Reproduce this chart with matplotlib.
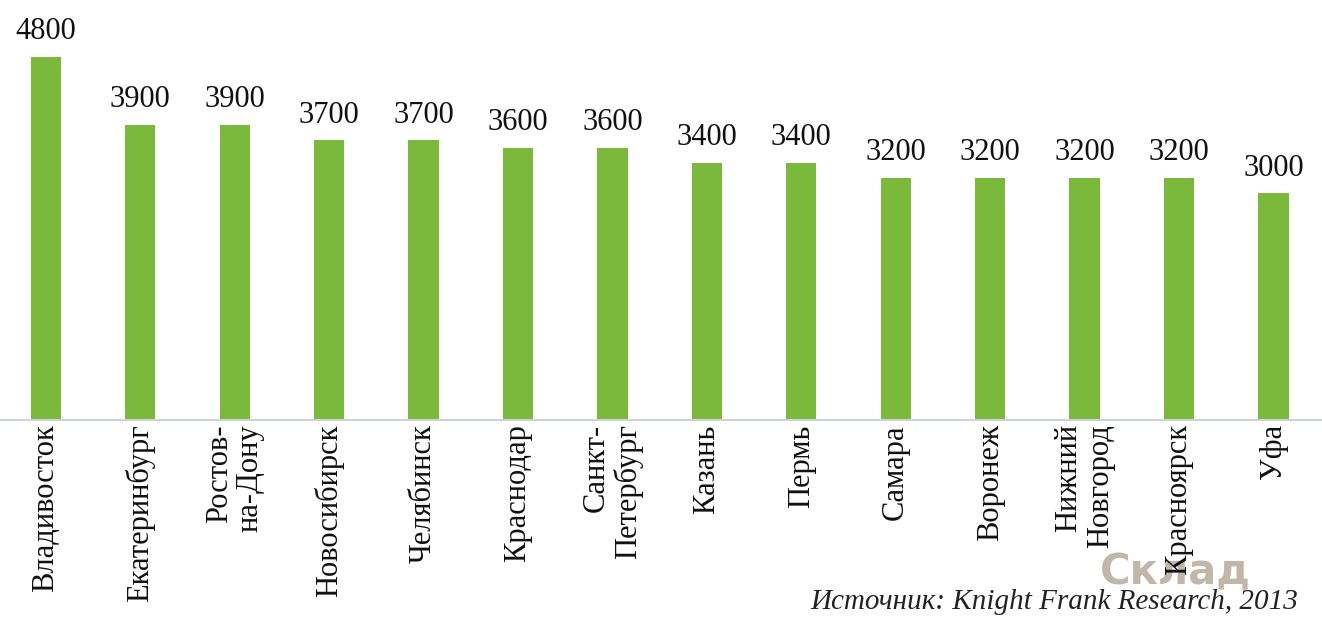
import matplotlib
matplotlib.use("Agg")
import matplotlib.pyplot as plt

cities = ["Владивосток", "Екатеринбург", "Ростов-\nна-Дону", "Новосибирск", "Челябинск",
          "Краснодар", "Санкт-\nПетербург", "Казань", "Пермь", "Самара", "Воронеж",
          "Нижний\nНовгород", "Красноярск", "Уфа"]
rents = [4800, 3900, 3900, 3700, 3700, 3600, 3600, 3400, 3400, 3200, 3200, 3200, 3200, 3000]
source = "Источник: Knight Frank Research, 2013"

plt.rcParams['font.family'] = ['Liberation Serif', 'DejaVu Serif']

fig = plt.figure(figsize=(13.22, 6.26), dpi=100)

# watermark logo, behind everything
fig.text(1175 / 1322, 1 - 572 / 626, "Склад", family='DejaVu Sans', fontweight='bold',
         fontsize=30, color='#c2b6a9', ha='center', va='center', zorder=-5)

ax = fig.add_axes([-0.001, 1 - 420 / 626, 1.0, 420 / 626])

x = range(len(cities))
bars = ax.bar(x, rents, width=0.32, color='#7ab93c', zorder=2)
for xi, v in zip(x, rents):
    ax.text(xi, v + 140, str(v), ha='center', va='bottom', fontsize=22, color='#111111')

ax.set_xlim(-0.5, len(cities) - 0.5)
ax.set_ylim(0, 4800 * 420 / 363)
ax.set_yticks([])
ax.set_xticks(list(x))
ax.set_xticklabels(cities, rotation=90, fontsize=22, va='top', ha='center',
                   multialignment='right', color='#111111', linespacing=1.1)
ax.tick_params(axis='x', length=0, pad=3)
for s in ['top', 'right', 'left']:
    ax.spines[s].set_visible(False)
ax.spines['bottom'].set_color('#d0d3d6')
ax.spines['bottom'].set_linewidth(1.5)
ax.patch.set_alpha(0)

fig.text(1298 / 1322, 1 - 602 / 626, source, ha='right', va='center', fontsize=21,
         style='italic', color='#222222')

fig.savefig("out.png", dpi=100)
